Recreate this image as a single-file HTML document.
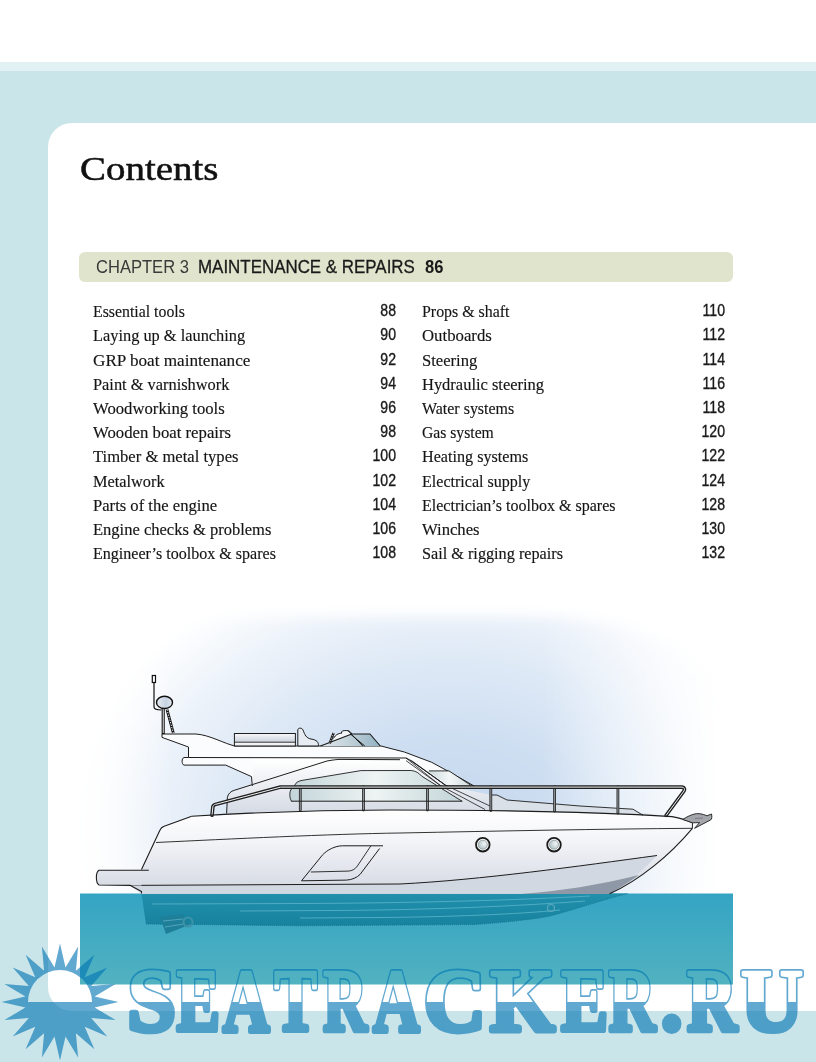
<!DOCTYPE html>
<html><head><meta charset="utf-8">
<style>
html,body{margin:0;padding:0;}
body{width:816px;height:1062px;position:relative;overflow:hidden;background:#fff;}
.band1{position:absolute;left:0;top:62px;width:816px;height:9px;background:#e2f1f3;}
.band2{position:absolute;left:0;top:71px;width:816px;height:991px;background:#cae5e9;}
.panel{position:absolute;left:48px;top:123px;width:800px;height:888px;background:#fff;border-radius:24px;}
.title{position:absolute;left:80px;top:148.6px;font-family:"Liberation Serif",serif;font-size:34px;color:#111;white-space:nowrap;line-height:40px;transform:scaleX(1.145);transform-origin:0 0;-webkit-text-stroke:0.5px #111;}
.bar{position:absolute;left:79px;top:252px;width:654px;height:30px;background:#e1e4cc;border-radius:6px;}
.ch{position:absolute;top:257px;font-family:"Liberation Sans",sans-serif;color:#1a1a1a;white-space:nowrap;line-height:20px;}
.toc{position:absolute;transform-origin:0 0;font-family:"Liberation Serif",serif;font-size:16px;color:#151515;white-space:nowrap;line-height:20px;margin-top:-0.5px;-webkit-text-stroke:0.15px #151515;}
.num{position:absolute;font-family:"Liberation Sans",sans-serif;font-size:16px;color:#1a1a1a;white-space:nowrap;line-height:20px;text-align:right;width:60px;transform:scaleX(0.88);transform-origin:100% 0;-webkit-text-stroke:0.35px #1a1a1a;}
svg{position:absolute;left:0;top:0;}
</style></head>
<body>
<div class="band1"></div>
<div class="band2"></div>
<div class="panel"></div>
<div class="title">Contents</div>
<div class="bar"></div>
<div class="ch" style="left:96px;font-size:18px;transform:scaleX(0.92);transform-origin:0 0;color:#3a3a3a;">CHAPTER 3</div>
<div class="ch" style="left:198px;font-size:18px;transform:scaleX(0.94);transform-origin:0 0;-webkit-text-stroke:0.3px #1a1a1a;">MAINTENANCE &amp; REPAIRS</div>
<div class="ch" style="left:425px;font-size:18px;font-weight:bold;transform:scaleX(0.92);transform-origin:0 0;">86</div>

<div class="toc" style="left:93px;top:302px;transform:scaleX(0.989);">Essential tools</div>
<div class="toc" style="left:93px;top:326px;transform:scaleX(1.022);">Laying up &amp; launching</div>
<div class="toc" style="left:93px;top:351px;transform:scaleX(1.071);">GRP boat maintenance</div>
<div class="toc" style="left:93px;top:375px;transform:scaleX(1.023);">Paint &amp; varnishwork</div>
<div class="toc" style="left:93px;top:399px;transform:scaleX(1.043);">Woodworking tools</div>
<div class="toc" style="left:93px;top:423px;transform:scaleX(1.046);">Wooden boat repairs</div>
<div class="toc" style="left:93px;top:447px;transform:scaleX(1.037);">Timber &amp; metal types</div>
<div class="toc" style="left:93px;top:472px;transform:scaleX(1.019);">Metalwork</div>
<div class="toc" style="left:93px;top:496px;transform:scaleX(1.038);">Parts of the engine</div>
<div class="toc" style="left:93px;top:520px;transform:scaleX(1.032);">Engine checks &amp; problems</div>
<div class="toc" style="left:93px;top:544px;transform:scaleX(1.003);">Engineer’s toolbox &amp; spares</div>

<div class="num" style="left:335.5px;top:301px;">88</div>
<div class="num" style="left:335.5px;top:325px;">90</div>
<div class="num" style="left:335.5px;top:350px;">92</div>
<div class="num" style="left:335.5px;top:374px;">94</div>
<div class="num" style="left:335.5px;top:398px;">96</div>
<div class="num" style="left:335.5px;top:422px;">98</div>
<div class="num" style="left:335.5px;top:446px;">100</div>
<div class="num" style="left:335.5px;top:471px;">102</div>
<div class="num" style="left:335.5px;top:495px;">104</div>
<div class="num" style="left:335.5px;top:519px;">106</div>
<div class="num" style="left:335.5px;top:543px;">108</div>

<div class="toc" style="left:422px;top:302px;transform:scaleX(0.994);">Props &amp; shaft</div>
<div class="toc" style="left:422px;top:326px;transform:scaleX(1.048);">Outboards</div>
<div class="toc" style="left:422px;top:351px;transform:scaleX(1.038);">Steering</div>
<div class="toc" style="left:422px;top:375px;transform:scaleX(1.029);">Hydraulic steering</div>
<div class="toc" style="left:422px;top:399px;transform:scaleX(0.997);">Water systems</div>
<div class="toc" style="left:422px;top:423px;transform:scaleX(0.979);">Gas system</div>
<div class="toc" style="left:422px;top:447px;transform:scaleX(1.009);">Heating systems</div>
<div class="toc" style="left:422px;top:472px;transform:scaleX(1.003);">Electrical supply</div>
<div class="toc" style="left:422px;top:496px;transform:scaleX(1.001);">Electrician’s toolbox &amp; spares</div>
<div class="toc" style="left:422px;top:520px;transform:scaleX(1.04);">Winches</div>
<div class="toc" style="left:422px;top:544px;transform:scaleX(1.014);">Sail &amp; rigging repairs</div>

<div class="num" style="left:664.5px;top:301px;">110</div>
<div class="num" style="left:664.5px;top:325px;">112</div>
<div class="num" style="left:664.5px;top:350px;">114</div>
<div class="num" style="left:664.5px;top:374px;">116</div>
<div class="num" style="left:664.5px;top:398px;">118</div>
<div class="num" style="left:664.5px;top:422px;">120</div>
<div class="num" style="left:664.5px;top:446px;">122</div>
<div class="num" style="left:664.5px;top:471px;">124</div>
<div class="num" style="left:664.5px;top:495px;">128</div>
<div class="num" style="left:664.5px;top:519px;">130</div>
<div class="num" style="left:664.5px;top:543px;">132</div>

<!--BOAT--><svg width="816" height="1062" viewBox="0 0 816 1062">
<defs>
  <radialGradient id="glow" cx="450" cy="830" r="380" gradientUnits="userSpaceOnUse" gradientTransform="translate(450 830) scale(1 0.75) translate(-450 -830)">
    <stop offset="0" stop-color="#c3d6ee"/>
    <stop offset="0.35" stop-color="#cfdff2"/>
    <stop offset="0.6" stop-color="#dee9f6"/>
    <stop offset="0.8" stop-color="#edf3fa"/>
    <stop offset="1" stop-color="#ffffff"/>
  </radialGradient>
  <linearGradient id="water" x1="0" y1="893" x2="0" y2="985" gradientUnits="userSpaceOnUse">
    <stop offset="0" stop-color="#34a4c4"/>
    <stop offset="1" stop-color="#52b2c0"/>
  </linearGradient>
  <linearGradient id="hull" x1="0" y1="810" x2="0" y2="893" gradientUnits="userSpaceOnUse">
    <stop offset="0" stop-color="#ffffff"/>
    <stop offset="0.35" stop-color="#f4f5f8"/>
    <stop offset="1" stop-color="#d3d8e2"/>
  </linearGradient>
  <linearGradient id="cab" x1="0" y1="760" x2="0" y2="815" gradientUnits="userSpaceOnUse">
    <stop offset="0" stop-color="#ffffff"/>
    <stop offset="1" stop-color="#d3d9e3"/>
  </linearGradient>
  <linearGradient id="glass" x1="290" y1="0" x2="480" y2="0" gradientUnits="userSpaceOnUse">
    <stop offset="0" stop-color="#c3d5d9"/>
    <stop offset="0.45" stop-color="#eef3f3"/>
    <stop offset="1" stop-color="#b9cfd2"/>
  </linearGradient>
  <linearGradient id="wind" x1="0" y1="731" x2="0" y2="746" gradientUnits="userSpaceOnUse">
    <stop offset="0" stop-color="#cfdde6"/>
    <stop offset="1" stop-color="#9fbccb"/>
  </linearGradient>
  <linearGradient id="sub" x1="0" y1="893" x2="0" y2="926" gradientUnits="userSpaceOnUse">
    <stop offset="0" stop-color="#2190ad"/>
    <stop offset="1" stop-color="#17829e"/>
  </linearGradient>
  <linearGradient id="gmg" x1="60" y1="0" x2="770" y2="0" gradientUnits="userSpaceOnUse"><stop offset="0" stop-color="#000"/><stop offset="0.16" stop-color="#fff"/><stop offset="0.68" stop-color="#fff"/><stop offset="0.93" stop-color="#000"/></linearGradient>
  <mask id="gm" maskUnits="userSpaceOnUse" x="0" y="560" width="816" height="360"><rect x="0" y="560" width="816" height="360" fill="url(#gmg)"/></mask>
  <filter id="blur" x="-20%" y="-20%" width="140%" height="140%"><feGaussianBlur stdDeviation="7"/></filter>
</defs>
<!-- glow -->
<g mask="url(#gm)"><path d="M60,900 L60,770 C60,670 130,617 270,617 L540,617 C680,617 760,690 760,780 L760,900 Z" fill="url(#glow)" filter="url(#blur)"/></g>
<!-- water -->
<rect x="80" y="893.5" width="653" height="91" fill="url(#water)"/>
<!-- submerged hull -->
<path d="M141.5,893.5 L146,924 L300,925.8 L475,924.6 C510,922 535,919 550,916 C580,908 605,899 628,893.5 Z" fill="url(#sub)"/>
<path d="M152,904 L300,903.5 C420,903 520,900 590,896 M240,911 L330,910.5 C430,910 520,906 585,901 M300,918 L380,917.5 C450,917 520,914 560,910" stroke="#55b0c6" stroke-width="0.9" fill="none"/>
<path d="M146,924 L300,925.8 L475,924.6 C510,922 535,919 550,916 C580,908 605,899 628,893.5" stroke="#167a94" stroke-width="1" fill="none" stroke-dasharray="1 1"/>
<path d="M160,917 L183,914 L189,925 L166,934 Z" fill="#1f7f98"/><path d="M163,921 L183,919 M165,927 L184,924" stroke="#5aaec4" stroke-width="0.8"/>
<circle cx="188" cy="922" r="4.5" fill="none" stroke="#3d93a8" stroke-width="2"/>
<circle cx="551" cy="908" r="3.5" fill="none" stroke="#5aa8bc" stroke-width="1.2"/>

<!-- hull -->
<path d="M191.7,816.3 C260,812 330,810 390,810 C480,810 600,812 672,816.6 C680,818 688,820.5 692.4,822.8 L692.4,828.3 C670,855 640,880 609.6,893.8 L141.5,893.8 L130.4,885.4 L141.5,869.5 L159.9,830.2 C161,828 162,827 163.5,826.6 Z" fill="url(#hull)"/>
<path d="M191.7,816.3 L163.5,826.6 C162,827 161,828 159.9,830.2 L141.5,869.5" fill="none" stroke="#1d1d1d" stroke-width="1.1" stroke-linejoin="round"/>
<!-- boot stripe band -->
<path d="M130.4,885.4 L400,884 C480,880 580,866 657,855.5 C645,868 628,884 609.6,893.8 L141.5,893.8 Z" fill="#d2d8e2"/>
<path d="M639,875 C600,885 560,891 521,894 L609.6,894 C620,888 630,881 639,875 Z" fill="#8f98a6"/>
<path d="M130.4,885.4 L400,884 C480,880 580,866 657,855.5" fill="none" stroke="#1d1d1d" stroke-width="1"/>
<path d="M692.4,828.3 C670,855 640,880 609.6,893.8" fill="none" stroke="#1d1d1d" stroke-width="1.1"/>
<!-- sheer line -->
<path d="M156,842.5 C230,839 330,834 400,833 C500,831 600,829 692.4,828.3" fill="none" stroke="#1d1d1d" stroke-width="0.9"/>
<!-- swim platform -->
<path d="M148.8,870.2 L99,870.2 C95.5,872 95.5,883 99,885 L130.4,885.4 L141.5,885.4 L141.5,870.2 Z" fill="url(#hull)"/>
<path d="M148.8,870.2 L99,870.2 C95.5,872 95.5,883 99,885 L130.4,885.4 L141.5,891.5 L141.5,893.5" fill="none" stroke="#1d1d1d" stroke-width="1.1" stroke-linejoin="round"/>
<!-- portholes -->
<defs><radialGradient id="port" cx="0.65" cy="0.4" r="0.7"><stop offset="0" stop-color="#f4f7f7"/><stop offset="1" stop-color="#a9bcc2"/></radialGradient></defs>
<circle cx="482.8" cy="844.7" r="6.8" fill="#fff" stroke="#1a1a1a" stroke-width="1.8"/>
<circle cx="482.8" cy="844.7" r="4.6" fill="url(#port)" stroke="#6a7478" stroke-width="0.5"/>
<circle cx="554" cy="844.7" r="6.8" fill="#fff" stroke="#1a1a1a" stroke-width="1.8"/>
<circle cx="554" cy="844.7" r="4.6" fill="url(#port)" stroke="#6a7478" stroke-width="0.5"/>

<!-- hatch -->
<path d="M383,845.8 L342.6,845.8 C335,845.8 327,850 322.3,855.2 L301.5,880.8 L346.6,880.1 C352,879.8 357,877.5 360,874.5 L379.6,848.5" fill="none" stroke="#1d1d1d" stroke-width="1"/>
<path d="M370.9,845.8 L357.4,866 C355,869.5 351.5,871.1 348,871.1 L310.9,872" fill="none" stroke="#1d1d1d" stroke-width="0.9"/>

<!-- cabin side (below sweep) -->
<path d="M212,816 L226.6,813.5 L227.4,797.2 C228,794 231,791 234.3,790.3 L252.3,784.5 L252.3,757.5 L406,758 L446,785.5 L491,795 L507,800 L580,806 L672,816.6 C600,812 480,810 390,810 C330,810 260,812 212,816 Z" fill="url(#cab)"/>
<!-- glass band -->
<path d="M291.5,801.2 C289.3,798 289.3,791 291.5,789 L294.7,785.3 C296,782 299,781 302,780.4 L360.9,770.6 L411.2,770.5 C416,771 419,773 421.5,776 L462,801.2 Z" fill="url(#glass)"/>

<!-- foredeck side -->
<path d="M491,795 L497,795 L507,800 L580,806 L633,809.2 L643,815.3 L540,811.7 L491,810 Z" fill="#d9e0e8"/>
<path d="M491,795 L497,795 L507,800 L580,806 L633,809.2 L643,815.3" fill="none" stroke="#1d1d1d" stroke-width="0.9"/>
<!-- cabin lines -->
<path d="M226.6,813.5 L227.4,797.2 C228,794 231,791 234.3,790.3 L327,761 C333,760 336,759.5 340,759.4 L400,759.7" fill="none" stroke="#1d1d1d" stroke-width="1"/>
<path d="M291.5,801.2 C289.3,798 289.3,791 291.5,789 L294.7,785.3 C296,782 299,781 302,780.4 L360.9,770.6 L411.2,770.5 C416,771 419,773 421.5,776 L462,801.2" fill="none" stroke="#1d1d1d" stroke-width="0.9"/>
<path d="M406,760.6 L440.3,785.5 L485,809.5 M411,760.6 L446,785.5 L490,806" fill="none" stroke="#1d1d1d" stroke-width="0.8"/>


<!-- flybridge: overhang floor + deck -->
<path d="M188.5,757.5 L184,757.5 C181.5,758 181.5,764.5 184,765.1 L225.7,765.1 L251.5,776.6 L252.3,784.5 L253,784.3 L253,757.5 Z" fill="#fbfcfd"/>
<path d="M188.5,757.5 L184,757.5 C181.5,758 181.5,764.5 184,765.1 L225.7,765.1 L251.5,776.6 L252.3,786" fill="none" stroke="#1d1d1d" stroke-width="1" stroke-linejoin="round"/>
<path d="M162,734 L196,734 C210,735 225,744 235,746 L381,746 L404.3,752 L431.7,762.3 L450.6,772.6 L474.6,786.3 L446,785.5 L411,760.6 L406,758 L188.5,757.5 L188.5,747 L162,737.4 Z" fill="#fbfcfd" stroke="#1d1d1d" stroke-width="1" stroke-linejoin="round"/>
<defs><linearGradient id="fw" x1="427" y1="0" x2="472" y2="0" gradientUnits="userSpaceOnUse"><stop offset="0" stop-color="#c9d8dc"/><stop offset="0.5" stop-color="#f3f6f6"/><stop offset="1" stop-color="#cfdadd"/></linearGradient></defs>
<path d="M427.5,770.9 L449,770.9 L471.2,785.5 L448,785.5 Z" fill="url(#fw)"/>
<path d="M429,770.9 L449,770.9 L471.2,785.5" fill="none" stroke="#1d1d1d" stroke-width="0.9"/>
<path d="M406,758 L440.3,785.5 M411.5,760.6 L446,785.5" fill="none" stroke="#1d1d1d" stroke-width="0.8"/>
<!-- sunbed -->
<defs><linearGradient id="sb" x1="0" y1="734" x2="0" y2="746" gradientUnits="userSpaceOnUse"><stop offset="0" stop-color="#f4f6f9"/><stop offset="0.6" stop-color="#cfd6df"/><stop offset="0.75" stop-color="#f6f7f9"/><stop offset="1" stop-color="#e2e6ec"/></linearGradient></defs>
<rect x="234.4" y="733.5" width="61" height="12.5" fill="url(#sb)" stroke="#1d1d1d" stroke-width="1"/>
<line x1="234.4" y1="742.2" x2="295.4" y2="742.2" stroke="#1d1d1d" stroke-width="0.9"/>
<!-- seat -->
<path d="M297.8,746 L297.8,730 C298,727.5 302,727.5 303,730 C305,735 306,738 311,739 C317,740 318.5,742 318.5,746 Z" fill="#e6ecf1" stroke="#1d1d1d" stroke-width="1"/>
<!-- console windscreen -->
<defs><linearGradient id="wind2" x1="322" y1="0" x2="380" y2="0" gradientUnits="userSpaceOnUse"><stop offset="0" stop-color="#dde5ea"/><stop offset="0.45" stop-color="#c3d2da"/><stop offset="1" stop-color="#93b2c3"/></linearGradient></defs>
<path d="M320.5,746 L351.8,734 L370,734 L380.3,746 Z" fill="url(#wind2)"/>
<path d="M333.4,738.5 C336,734.5 338,733.5 341.7,733.2 L341.5,731.8 C342.5,730.4 346,730.4 348,730.7 C350,731.2 351.5,733 351.8,734 L334.5,741 Z" fill="#f4f6f8"/>
<path d="M320.5,746 L351.8,734 L370,734 L380.3,746" fill="none" stroke="#161616" stroke-width="1.1" stroke-linejoin="round"/>
<path d="M348,730.7 L362.8,746 M350.8,734.4 L364.8,746" fill="none" stroke="#161616" stroke-width="1"/>
<path d="M333.4,738.5 C336,734.5 338,733.5 341.7,733.2 L341.5,731.8 C342.5,730.4 346,730.4 348,730.7 C350,731.2 351.5,733 351.8,734" fill="none" stroke="#161616" stroke-width="1"/>
<path d="M329.7,743.5 L333.6,733" stroke="#161616" stroke-width="2.4"/>
<path d="M329.7,743.5 L333.6,733" stroke="#ffffff" stroke-width="0.8" stroke-dasharray="1.2 1.4"/>

<!-- mast -->
<rect x="152.3" y="675.5" width="3.2" height="7" fill="#fff" stroke="#111" stroke-width="1.2"/>
<path d="M154,682.5 L154,707 C154,709 156,710 161.5,710" fill="none" stroke="#111" stroke-width="1.2"/>
<rect x="162.2" y="708.5" width="2" height="25" fill="#fff" stroke="#111" stroke-width="1.1"/>
<path d="M167,709.5 L173.3,733" stroke="#111" stroke-width="2.8"/>
<path d="M167,709.5 L173.3,733" stroke="#ffffff" stroke-width="1" stroke-dasharray="1.3 1.3"/>
<defs><linearGradient id="rad" x1="157" y1="0" x2="172" y2="0" gradientUnits="userSpaceOnUse"><stop offset="0" stop-color="#e6ebf2"/><stop offset="0.6" stop-color="#c6d3e2"/><stop offset="1" stop-color="#dfe6ee"/></linearGradient></defs>
<ellipse cx="164.5" cy="702.4" rx="8" ry="6.1" fill="url(#rad)" stroke="#111" stroke-width="1.4"/>

<!-- railings -->
<g fill="none" stroke-linecap="round" stroke-linejoin="round">
  <path d="M300.3,787 L300.3,810 M363.5,787 L363.5,810 M427.5,787 L427.5,810 M490.8,787 L490.8,810.5 M554.6,787 L554.6,811 M617.9,787 L617.9,813" stroke="#2a2a2a" stroke-width="2.8"/>
  <path d="M300.3,787 L300.3,810 M363.5,787 L363.5,810 M427.5,787 L427.5,810 M490.8,787 L490.8,810.5 M554.6,787 L554.6,811 M617.9,787 L617.9,813" stroke="#8d9299" stroke-width="1.1"/>
  <path d="M212,815.2 L212.9,806.6 C213.5,805 215,804.2 217,804 L280.6,787.1 L682,787.1 C684.5,787.5 685,789 684,791 L666.2,815.3" stroke="#1f1f1f" stroke-width="3.6"/>
  <path d="M212,815.2 L212.9,806.6 C213.5,805 215,804.2 217,804 L280.6,787.1 L682,787.1 C684.5,787.5 685,789 684,791 L666.2,815.3" stroke="#f2f4f6" stroke-width="1.0"/>
  <path d="M291.5,801.2 L462,801.2" stroke="#1d1d1d" stroke-width="1"/>
</g>
<!-- deck line -->
<path d="M191.7,816.3 C260,812 330,810 390,810 C480,810 600,812 672,816.6 C680,818 688,820.5 692.4,822.8" fill="none" stroke="#1d1d1d" stroke-width="1.1"/>
<!-- anchor -->
<path d="M682.8,819.5 C688,816 694,813.5 698.2,813.6 C702,813.8 705,815 707,815.8 L711.5,814 C712.2,817 711.8,819 710.7,819.9 L694.6,828.3 L699.5,822.6 L692.4,822.8 Z" fill="#a3a6aa" stroke="#1d1d1d" stroke-width="0.9" stroke-linejoin="round"/>
<path d="M692.4,822.8 L692.4,828.3" stroke="#1d1d1d" stroke-width="1"/>
<path d="M695,818.5 L703,818" stroke="#6d7075" stroke-width="0.8"/>
</svg>
<!--/BOAT-->

<!--WATERMARK--><svg width="816" height="1062" viewBox="0 0 816 1062" style="position:absolute;left:0;top:0">
<defs>
<clipPath id="upper"><rect x="0" y="900" width="816" height="102"/></clipPath>
<clipPath id="lower"><rect x="0" y="1002" width="816" height="60"/></clipPath>
<mask id="mup" maskUnits="userSpaceOnUse" x="0" y="900" width="816" height="162"><rect x="0" y="900" width="816" height="162" fill="#fff"/>
<g font-family="Liberation Serif" font-weight="bold" font-size="87.97" stroke-linejoin="round"><text x="0" y="1030.05" transform="translate(129.30 0) scale(0.9848 1) translate(-1.73 0)" fill="#000" stroke="#000" stroke-width="2.5">S</text><text x="0" y="1030.05" transform="translate(175.60 0) scale(0.7326 1) translate(1.45 0)" fill="#000" stroke="#000" stroke-width="2.5">E</text><text x="0" y="1030.05" transform="translate(221.50 0) scale(0.7288 1) translate(2.09 0)" fill="#000" stroke="#000" stroke-width="2.5">A</text><text x="0" y="1030.05" transform="translate(273.00 0) scale(0.7274 1) translate(1.58 0)" fill="#000" stroke="#000" stroke-width="2.5">T</text><text x="0" y="1030.05" transform="translate(322.30 0) scale(0.6871 1) translate(1.45 0)" fill="#000" stroke="#000" stroke-width="2.5">R</text><text x="0" y="1030.05" transform="translate(371.70 0) scale(0.7258 1) translate(2.09 0)" fill="#000" stroke="#000" stroke-width="2.5">A</text><text x="0" y="1030.05" transform="translate(425.00 0) scale(0.9755 1) translate(-1.35 0)" fill="#000" stroke="#000" stroke-width="2.5">C</text><text x="0" y="1030.05" transform="translate(489.00 0) scale(0.9427 1) translate(1.45 0)" fill="#000" stroke="#000" stroke-width="2.5">K</text><text x="0" y="1030.05" transform="translate(560.00 0) scale(0.7958 1) translate(1.45 0)" fill="#000" stroke="#000" stroke-width="2.5">E</text><text x="0" y="1030.05" transform="translate(608.00 0) scale(0.7278 1) translate(1.45 0)" fill="#000" stroke="#000" stroke-width="2.5">R</text><text x="0" y="1030.05" transform="translate(662.00 0) scale(0.9722 1) translate(-0.92 0)" fill="#000" stroke="#000" stroke-width="2.5">.</text><text x="0" y="1030.05" transform="translate(686.00 0) scale(0.7802 1) translate(1.45 0)" fill="#000" stroke="#000" stroke-width="2.5">R</text><text x="0" y="1030.05" transform="translate(740.00 0) scale(0.9839 1) translate(0.76 0)" fill="#000" stroke="#000" stroke-width="2.5">U</text></g></mask>
</defs>
<g opacity="0.62">
<path d="M60.0,943.5 L65.5,967.4 L78.1,946.4 L75.9,970.8 L94.4,954.7 L84.7,977.3 L107.3,967.6 L91.2,986.1 L115.6,983.9 L94.6,996.5 L118.5,1002.0 L94.6,1007.5 L115.6,1020.1 L91.2,1017.9 L107.3,1036.4 L84.7,1026.7 L94.4,1049.3 L75.9,1033.2 L78.1,1057.6 L65.5,1036.6 L60.0,1060.5 L54.5,1036.6 L41.9,1057.6 L44.1,1033.2 L25.6,1049.3 L35.3,1026.7 L12.7,1036.4 L28.8,1017.9 L4.4,1020.1 L25.4,1007.5 L1.5,1002.0 L25.4,996.5 L4.4,983.9 L28.8,986.1 L12.7,967.6 L35.3,977.3 L25.6,954.7 L44.1,970.8 L41.9,946.4 L54.5,967.4 Z M28.0,1002.0 A32,32 0 0 1 92.0,1002.0 Z" fill="#0074b4" fill-rule="evenodd"/>
<g font-family="Liberation Serif" font-weight="bold" font-size="87.97" stroke-linejoin="round">
<g clip-path="url(#upper)"><g mask="url(#mup)"><text x="0" y="1030.05" transform="translate(129.30 0) scale(0.9848 1) translate(-1.73 0)" fill="#0074b4" stroke="#0074b4" stroke-width="5.9">S</text><text x="0" y="1030.05" transform="translate(175.60 0) scale(0.7326 1) translate(1.45 0)" fill="#0074b4" stroke="#0074b4" stroke-width="5.9">E</text><text x="0" y="1030.05" transform="translate(221.50 0) scale(0.7288 1) translate(2.09 0)" fill="#0074b4" stroke="#0074b4" stroke-width="5.9">A</text><text x="0" y="1030.05" transform="translate(273.00 0) scale(0.7274 1) translate(1.58 0)" fill="#0074b4" stroke="#0074b4" stroke-width="5.9">T</text><text x="0" y="1030.05" transform="translate(322.30 0) scale(0.6871 1) translate(1.45 0)" fill="#0074b4" stroke="#0074b4" stroke-width="5.9">R</text><text x="0" y="1030.05" transform="translate(371.70 0) scale(0.7258 1) translate(2.09 0)" fill="#0074b4" stroke="#0074b4" stroke-width="5.9">A</text><text x="0" y="1030.05" transform="translate(425.00 0) scale(0.9755 1) translate(-1.35 0)" fill="#0074b4" stroke="#0074b4" stroke-width="5.9">C</text><text x="0" y="1030.05" transform="translate(489.00 0) scale(0.9427 1) translate(1.45 0)" fill="#0074b4" stroke="#0074b4" stroke-width="5.9">K</text><text x="0" y="1030.05" transform="translate(560.00 0) scale(0.7958 1) translate(1.45 0)" fill="#0074b4" stroke="#0074b4" stroke-width="5.9">E</text><text x="0" y="1030.05" transform="translate(608.00 0) scale(0.7278 1) translate(1.45 0)" fill="#0074b4" stroke="#0074b4" stroke-width="5.9">R</text><text x="0" y="1030.05" transform="translate(662.00 0) scale(0.9722 1) translate(-0.92 0)" fill="#0074b4" stroke="#0074b4" stroke-width="5.9">.</text><text x="0" y="1030.05" transform="translate(686.00 0) scale(0.7802 1) translate(1.45 0)" fill="#0074b4" stroke="#0074b4" stroke-width="5.9">R</text><text x="0" y="1030.05" transform="translate(740.00 0) scale(0.9839 1) translate(0.76 0)" fill="#0074b4" stroke="#0074b4" stroke-width="5.9">U</text></g></g>
<g clip-path="url(#lower)"><text x="0" y="1030.05" transform="translate(129.30 0) scale(0.9848 1) translate(-1.73 0)" fill="#0074b4" stroke="#0074b4" stroke-width="5.9">S</text><text x="0" y="1030.05" transform="translate(175.60 0) scale(0.7326 1) translate(1.45 0)" fill="#0074b4" stroke="#0074b4" stroke-width="5.9">E</text><text x="0" y="1030.05" transform="translate(221.50 0) scale(0.7288 1) translate(2.09 0)" fill="#0074b4" stroke="#0074b4" stroke-width="5.9">A</text><text x="0" y="1030.05" transform="translate(273.00 0) scale(0.7274 1) translate(1.58 0)" fill="#0074b4" stroke="#0074b4" stroke-width="5.9">T</text><text x="0" y="1030.05" transform="translate(322.30 0) scale(0.6871 1) translate(1.45 0)" fill="#0074b4" stroke="#0074b4" stroke-width="5.9">R</text><text x="0" y="1030.05" transform="translate(371.70 0) scale(0.7258 1) translate(2.09 0)" fill="#0074b4" stroke="#0074b4" stroke-width="5.9">A</text><text x="0" y="1030.05" transform="translate(425.00 0) scale(0.9755 1) translate(-1.35 0)" fill="#0074b4" stroke="#0074b4" stroke-width="5.9">C</text><text x="0" y="1030.05" transform="translate(489.00 0) scale(0.9427 1) translate(1.45 0)" fill="#0074b4" stroke="#0074b4" stroke-width="5.9">K</text><text x="0" y="1030.05" transform="translate(560.00 0) scale(0.7958 1) translate(1.45 0)" fill="#0074b4" stroke="#0074b4" stroke-width="5.9">E</text><text x="0" y="1030.05" transform="translate(608.00 0) scale(0.7278 1) translate(1.45 0)" fill="#0074b4" stroke="#0074b4" stroke-width="5.9">R</text><text x="0" y="1030.05" transform="translate(662.00 0) scale(0.9722 1) translate(-0.92 0)" fill="#0074b4" stroke="#0074b4" stroke-width="5.9">.</text><text x="0" y="1030.05" transform="translate(686.00 0) scale(0.7802 1) translate(1.45 0)" fill="#0074b4" stroke="#0074b4" stroke-width="5.9">R</text><text x="0" y="1030.05" transform="translate(740.00 0) scale(0.9839 1) translate(0.76 0)" fill="#0074b4" stroke="#0074b4" stroke-width="5.9">U</text></g>
</g>
</g>
</svg><!--/WATERMARK-->
</body></html>
